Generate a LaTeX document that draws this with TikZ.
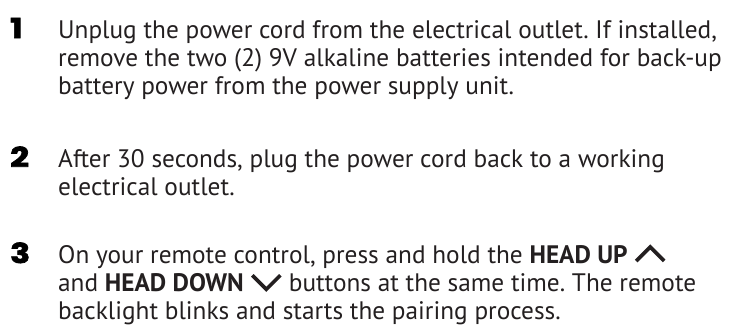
\documentclass[tikz,border=0pt]{standalone}
\usepackage{fontspec}
\setmainfont{PT Sans}
\newfontfamily\stepfont[FakeStretch=1.2,BoldFeatures={FakeBold=2.6}]{Poppins}
\definecolor{inktext}{HTML}{231F20}
\frenchspacing
% inline chevrons for the remote buttons
\newcommand{\chevup}{\tikz[baseline=0pt,x=1pt,y=1pt]\draw[line width=3.6pt,inktext] (0,2) -- (14,16) -- (28,2);}
\newcommand{\chevdown}{\tikz[baseline=0pt,x=1pt,y=1pt]\draw[line width=3.6pt,inktext] (0,16) -- (14,2) -- (28,16);}
\begin{document}
\begin{tikzpicture}[x=1pt,y=1pt]
  \tikzstyle{numlabel}=[anchor=base west,inner sep=0pt,text=black,
    font=\stepfont\bfseries\fontsize{27.5}{28}\selectfont]
  \tikzstyle{steptext}=[anchor=base west,inner sep=0pt,align=left,text=inktext,
    font=\fontsize{25.3}{28.3}\selectfont]
  \useasboundingbox (0,0) rectangle (741,-329);
  % the base of a text node is its last line
  \node[numlabel] (num1) at (10,-38) {1};
  \node[steptext] (step1) at (58,-94.6) {Unplug the power cord from the electrical outlet. If installed,\\
    remove the two (2) 9V alkaline batteries intended for back-up\\
    battery power from the power supply unit.};
  \node[numlabel] (num2) at (10,-167) {2};
  \node[steptext] (step2) at (58,-195.3) {After 30 seconds, plug the power cord back to a working\\
    electrical outlet.};
  \node[numlabel] (num3) at (10,-263) {3};
  \node[steptext] (step3) at (58,-319.6) {On your remote control, press and hold the \textbf{HEAD UP}~\chevup\\
    and \textbf{HEAD DOWN}~\chevdown{} buttons at the same time. The remote\\
    backlight blinks and starts the pairing process.};
\end{tikzpicture}
\end{document}
